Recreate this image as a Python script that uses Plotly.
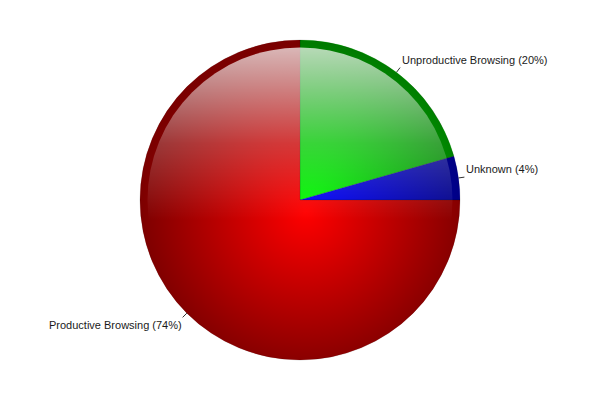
import base64
import math

import plotly.graph_objects as go

# slice data, clockwise from 12 o'clock
categories = ['Unproductive Browsing', 'Unknown', 'Productive Browsing']
values = [20.6, 4.4, 75.0]
pct_labels = ['20%', '4%', '74%']
colors = ['#00ff00', '#0000ff', '#ff0000']

W, H = 600, 400
# the page body adds an 8px margin, so draw the pie 8px up/left
CX, CY, R = 292, 192, 160


def to_paper(x, y):
    return x / W, 1 - y / H


# shading + gloss overlay (radial darkening and a white highlight on top)
svg = """<svg xmlns='http://www.w3.org/2000/svg' width='320' height='320' viewBox='0 0 320 320'>
<defs>
<radialGradient id='shade' cx='166' cy='172' r='168' gradientUnits='userSpaceOnUse'>
<stop offset='0' stop-color='#000' stop-opacity='0'/>
<stop offset='1' stop-color='#000' stop-opacity='0.52'/>
</radialGradient>
<linearGradient id='gloss' x1='0' y1='7' x2='0' y2='200' gradientUnits='userSpaceOnUse'>
<stop offset='0' stop-color='#fff' stop-opacity='0.72'/>
<stop offset='0.5' stop-color='#fff' stop-opacity='0.22'/>
<stop offset='0.9' stop-color='#fff' stop-opacity='0'/>
</linearGradient>
</defs>
<circle cx='160' cy='160' r='160' fill='url(#shade)'/>
<circle cx='160' cy='160' r='152.5' fill='url(#gloss)'/>
</svg>"""
overlay = 'data:image/svg+xml;base64,' + base64.b64encode(svg.encode()).decode()

fig = go.Figure()
fig.add_trace(go.Pie(
    labels=categories,
    values=values,
    text=pct_labels,
    textinfo='none',
    sort=False,
    direction='clockwise',
    rotation=0,
    marker=dict(colors=colors, line=dict(width=0.6, color='rgba(0,0,0,0.25)')),
    domain=dict(x=[(CX - R) / W, (CX + R) / W], y=[1 - (CY + R) / H, 1 - (CY - R) / H]),
    hovertemplate='%{label} (%{text})<extra></extra>',
    showlegend=False,
))

# leader lines and labels at each slice's middle angle
total = sum(values)
start = 0.0
for name, v, pct in zip(categories, values, pct_labels):
    mid = 90 - (start + v / 2) / total * 360
    a = math.radians(mid)
    x0, y0 = CX + R * math.cos(a), CY - R * math.sin(a)
    x1, y1 = CX + (R + 6) * math.cos(a), CY - (R + 6) * math.sin(a)
    px0, py0 = to_paper(x0, y0)
    px1, py1 = to_paper(x1, y1)
    fig.add_shape(type='line', xref='paper', yref='paper',
                  x0=px0, y0=py0, x1=px1, y1=py1,
                  line=dict(color='#333333', width=1))
    right = math.cos(a) >= 0
    top = math.sin(a) >= 0
    fig.add_annotation(
        x=px1, y=py1, xref='paper', yref='paper',
        text=f'{name} ({pct})', showarrow=False,
        xanchor='left' if right else 'right',
        yanchor='bottom' if top else 'top',
        xshift=0 if right else 1,
        font=dict(family='Liberation Sans', size=11, color='#1a1a1a'),
    )
    start += v

px, py = to_paper(CX - R, CY - R)
fig.add_layout_image(dict(
    source=overlay, xref='paper', yref='paper',
    x=px, y=py, sizex=2 * R / W, sizey=2 * R / H,
    xanchor='left', yanchor='top', sizing='stretch', layer='above',
))

fig.update_layout(
    width=W, height=H,
    margin=dict(l=0, r=0, t=0, b=0),
    paper_bgcolor='white',
    plot_bgcolor='white',
)

fig.write_html('out.html')
